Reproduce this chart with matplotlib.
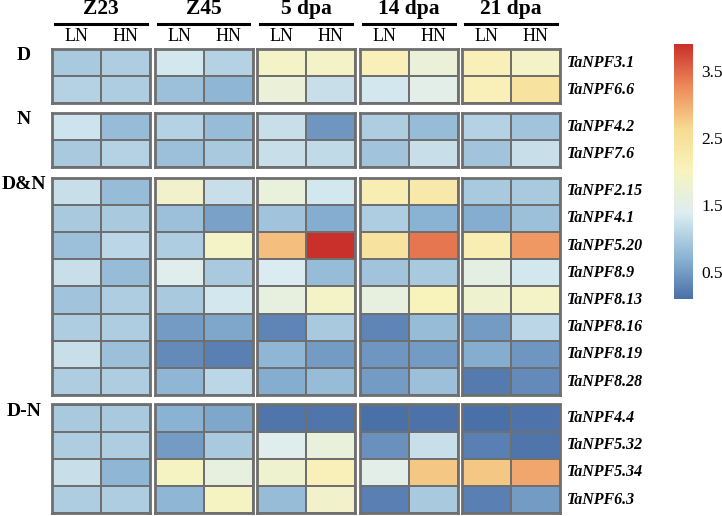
import numpy as np
import matplotlib
matplotlib.use("AGG")
import matplotlib.pyplot as plt
from matplotlib.colors import LinearSegmentedColormap, Normalize
from matplotlib.cm import ScalarMappable

# stages / treatments
stages = ["Z23", "Z45", "5 dpa", "14 dpa", "21 dpa"]
treatments = ["LN", "HN"]

# gene groups and their rows
group_names = ["D", "N", "D&N", "D-N"]
genes_D = ["TaNPF3.1", "TaNPF6.6"]
genes_N = ["TaNPF4.2", "TaNPF7.6"]
genes_DN = ["TaNPF2.15", "TaNPF4.1", "TaNPF5.20", "TaNPF8.9",
            "TaNPF8.13", "TaNPF8.16", "TaNPF8.19", "TaNPF8.28"]
genes_DmN = ["TaNPF4.4", "TaNPF5.32", "TaNPF5.34", "TaNPF6.3"]

# values: columns = Z23 LN, Z23 HN, Z45 LN, Z45 HN, 5dpa LN, 5dpa HN, 14dpa LN, 14dpa HN, 21dpa LN, 21dpa HN
vals_D = [
    [0.95, 1.00, 1.30, 1.05, 1.90, 1.90, 2.10, 1.70, 2.10, 1.90],
    [1.05, 1.00, 0.85, 0.75, 1.70, 1.20, 1.30, 1.50, 2.10, 2.45],
]
vals_N = [
    [1.25, 0.80, 1.05, 0.80, 1.20, 0.45, 1.00, 0.80, 1.05, 0.90],
    [0.95, 1.05, 0.85, 0.95, 1.20, 1.15, 0.90, 1.20, 0.90, 1.20],
]
vals_DN = [
    [1.20, 0.80, 1.85, 1.20, 1.65, 1.30, 2.15, 2.30, 0.95, 0.95],
    [0.95, 0.95, 0.85, 0.55, 0.90, 0.65, 1.00, 0.70, 0.65, 0.85],
    [0.85, 1.10, 1.00, 1.90, 2.85, 3.90, 2.45, 3.40, 2.15, 3.15],
    [1.20, 0.80, 1.45, 0.95, 1.35, 0.80, 0.90, 0.95, 1.55, 1.30],
    [0.90, 1.00, 0.95, 1.30, 1.60, 1.90, 1.60, 2.05, 1.80, 1.90],
    [1.00, 1.00, 0.50, 0.60, 0.30, 0.95, 0.30, 0.80, 0.50, 1.10],
    [1.20, 0.85, 0.35, 0.25, 0.75, 0.50, 0.45, 0.50, 0.65, 0.45],
    [1.00, 1.00, 0.75, 1.10, 0.65, 0.80, 0.50, 0.85, 0.20, 0.35],
]
vals_DmN = [
    [0.95, 0.95, 0.70, 0.60, 0.15, 0.15, 0.10, 0.12, 0.10, 0.13],
    [1.00, 1.00, 0.50, 0.95, 1.45, 1.65, 0.40, 1.20, 0.25, 0.15],
    [1.20, 0.75, 1.95, 1.60, 1.80, 2.10, 1.50, 2.80, 2.80, 3.05],
    [1.00, 1.00, 0.75, 1.95, 0.80, 1.85, 0.25, 0.95, 0.25, 0.50],
]

cbar_ticks = [0.5, 1.5, 2.5, 3.5]
vmin, vmax = 0.1, 3.9

# muted RdYlBu, sampled off the legend bar
cmap = LinearSegmentedColormap.from_list(
    "rdylbu7", ["#4A70A8", "#8EB6D5", "#DCEDF2", "#F8F4BF", "#F7DC92", "#EE8A5A", "#C9302B"])
norm = Normalize(vmin=vmin, vmax=vmax)

plt.rcParams["font.family"] = ["Liberation Serif", "DejaVu Serif"]

W, H = 722, 516
fig = plt.figure(figsize=(W / 100, H / 100), dpi=100)

def fx(px):
    return px / W

def fy(py):
    return 1 - py / H

# layout in pixels
x0, blk_w, blk_step = 52, 98, 102.5
row_h = 27.2
block_tops = [49, 113, 177.5, 404.5]
grey = "#6f6f6f"

groups = [(genes_D, vals_D), (genes_N, vals_N), (genes_DN, vals_DN), (genes_DmN, vals_DmN)]

for gi, (genes, vals) in enumerate(groups):
    arr = np.array(vals)
    top = block_tops[gi]
    nrow = len(genes)
    for si in range(len(stages)):
        left = x0 + si * blk_step
        ax = fig.add_axes([fx(left), fy(top + nrow * row_h), blk_w / W, nrow * row_h / H])
        sub = arr[:, 2 * si:2 * si + 2]
        ax.pcolormesh(sub, cmap=cmap, norm=norm, edgecolors=grey, linewidth=1.3)
        ax.set_xlim(0, 2)
        ax.set_ylim(nrow, 0)
        ax.set_xticks([])
        ax.set_yticks([])
        for sp in ax.spines.values():
            sp.set_color(grey)
            sp.set_linewidth(2.0)
    # group label on the left
    fig.text(fx(24), fy(top + 7), group_names[gi], ha="center", va="center",
             fontsize=14, fontweight="bold")
    # gene labels on the right
    for ri, g in enumerate(genes):
        fig.text(fx(567), fy(top + (ri + 0.5) * row_h), g, ha="left", va="center",
                 fontsize=11.5, fontweight="bold", fontstyle="italic")

# column headers
for si, st in enumerate(stages):
    left = x0 + si * blk_step
    cx = left + blk_w / 2
    fig.text(fx(cx), fy(9), st, ha="center", va="center", fontsize=15.5, fontweight="bold")
    fig.add_artist(plt.Line2D([fx(left + 3), fx(left + blk_w - 3)], [fy(23.5), fy(23.5)],
                              color="black", linewidth=2.2))
    for ti, t in enumerate(treatments):
        fig.text(fx(left + blk_w * (0.25 + 0.5 * ti)), fy(36.5), t, ha="center", va="center",
                 fontsize=13)

# colorbar
cax = fig.add_axes([fx(674), fy(299), 19 / W, 255 / H])
cb = fig.colorbar(ScalarMappable(norm=norm, cmap=cmap), cax=cax, ticks=cbar_ticks)
cb.outline.set_visible(False)
cb.ax.tick_params(length=0, labelsize=12.5, pad=6)
cb.ax.set_yticklabels([str(t) for t in cbar_ticks])

fig.savefig("out.png", dpi=100)
